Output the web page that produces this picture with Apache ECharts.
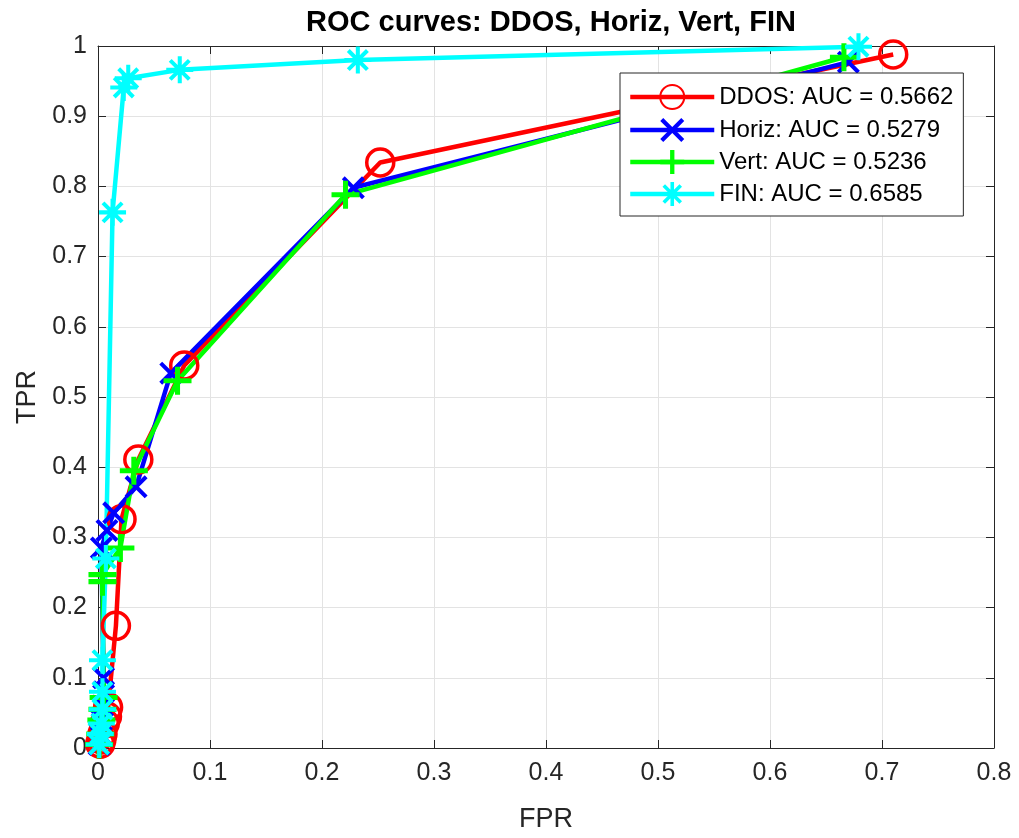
<!DOCTYPE html>
<html>
<head>
<meta charset="utf-8">
<script src="https://cdn.jsdelivr.net/npm/echarts@6/dist/echarts.min.js"></script>
<style>html,body{margin:0;padding:0;background:#fff;}#c{width:1019px;height:838px;}</style>
</head>
<body>
<div id="c"></div>
<script>
// ---- data ----
const seriesNames = ['DDOS: AUC = 0.5662', 'Horiz: AUC = 0.5279', 'Vert: AUC = 0.5236', 'FIN: AUC = 0.6585'];
const ddosFPR  = [0.002, 0.003, 0.004, 0.006, 0.008, 0.009, 0.016, 0.021, 0.036, 0.077, 0.252, 0.710];
const ddosTPR  = [0.006, 0.012, 0.020, 0.035, 0.045, 0.058, 0.174, 0.326, 0.411, 0.545, 0.834, 0.988];
const horizFPR = [0.001, 0.002, 0.003, 0.004, 0.005, 0.005, 0.003, 0.008, 0.014, 0.034, 0.065, 0.228, 0.670];
const horizTPR = [0.005, 0.020, 0.040, 0.060, 0.080, 0.100, 0.285, 0.310, 0.335, 0.372, 0.534, 0.798, 0.977];
const vertFPR  = [0.001, 0.002, 0.003, 0.004, 0.005, 0.004, 0.004, 0.020, 0.032, 0.071, 0.221, 0.666];
const vertTPR  = [0.005, 0.020, 0.040, 0.055, 0.072, 0.237, 0.247, 0.285, 0.395, 0.523, 0.788, 0.984];
const finFPR   = [0.001, 0.002, 0.003, 0.004, 0.004, 0.004, 0.007, 0.013, 0.023, 0.027, 0.073, 0.232, 0.679];
const finTPR   = [0.005, 0.020, 0.035, 0.055, 0.080, 0.125, 0.270, 0.763, 0.941, 0.954, 0.966, 0.980, 0.999];
const xTicks = [0, 0.1, 0.2, 0.3, 0.4, 0.5, 0.6, 0.7, 0.8];
const yTicks = [0, 0.1, 0.2, 0.3, 0.4, 0.5, 0.6, 0.7, 0.8, 0.9, 1];

// ---- marker shapes ----
const plusPath = 'path://M0,4.1 H10 V5.9 H0 Z M4.1,0 H5.9 V10 H4.1 Z';
const crossPath = 'path://M0.707,-0.707 L10.707,9.293 L9.293,10.707 L-0.707,0.707 Z M10.707,0.707 L0.707,10.707 L-0.707,9.293 L9.293,-0.707 Z';
const starPath = 'path://M0,4.25 H10 V5.75 H0 Z M4.25,0 H5.75 V10 H4.25 Z ' +
  'M1.99,0.93 L9.07,8.01 L8.01,9.07 L0.93,1.99 Z M9.07,1.99 L1.99,9.07 L0.93,8.01 L8.01,0.93 Z';

function pairs(xs, ys) { return xs.map((x, i) => [x, ys[i]]); }

const font = 'Arial, "Liberation Sans", Helvetica, sans-serif';
const ink = '#262626';

function mk(name, xs, ys, color, symbol, size, hollow) {
  return {
    name: name, type: 'line', data: pairs(xs, ys),
    symbol: symbol, symbolSize: size, showAllSymbol: true, clip: false,
    lineStyle: { color: color, width: 4.5 },
    itemStyle: hollow ? { color: 'rgba(0,0,0,0)', borderColor: color, borderWidth: 3.5 }
                      : { color: color, borderWidth: 0 },
    emphasis: { disabled: true },
    animation: false
  };
}

const chart = echarts.init(document.getElementById('c'), null, { renderer: 'canvas' });
chart.setOption({
  backgroundColor: '#fff',
  animation: false,
  title: {
    text: 'ROC curves: DDOS, Horiz, Vert, FIN',
    left: 546, top: 3, textAlign: 'center',
    textStyle: { fontFamily: font, fontSize: 29, fontWeight: 'bold', color: '#000' }
  },
  legend: {
    orient: 'vertical', left: 620, top: 73,
    itemWidth: 84, itemHeight: 30, itemGap: 8,
    padding: [11, 10, 10, 8],
    backgroundColor: '#fff', borderColor: ink, borderWidth: 1, borderRadius: 0,
    lineStyle: { width: 4.5 },
    textStyle: { fontFamily: font, fontSize: 24, color: '#000' },
    data: seriesNames
  },
  grid: { left: 98, right: 25, top: 46, bottom: 89, containLabel: false },
  xAxis: [{
    type: 'value', min: 0, max: 0.8, interval: 0.1,
    name: 'FPR', nameLocation: 'middle', nameGap: 58,
    nameTextStyle: { fontFamily: font, fontSize: 27, color: ink },
    axisLine: { show: true, onZero: false, lineStyle: { color: ink, width: 1 } },
    axisTick: { show: true, inside: true, length: 8, lineStyle: { color: ink } },
    axisLabel: { fontFamily: font, fontSize: 25, color: ink, margin: 13,
      formatter: v => xTicks.includes(Math.round(v * 10) / 10) ? String(Math.round(v * 10) / 10) : '' },
    splitLine: { show: true, lineStyle: { color: '#e3e3e3', width: 1 } }
  }, {
    type: 'value', position: 'top', min: 0, max: 0.8, interval: 0.1,
    axisLine: { show: true, onZero: false, lineStyle: { color: ink, width: 1 } },
    axisTick: { show: true, inside: true, length: 8, lineStyle: { color: ink } },
    axisLabel: { show: false }, splitLine: { show: false }
  }],
  yAxis: [{
    type: 'value', min: 0, max: 1, interval: 0.1,
    name: 'TPR', nameLocation: 'middle', nameGap: 55,
    nameTextStyle: { fontFamily: font, fontSize: 27, color: ink },
    axisLine: { show: true, onZero: false, lineStyle: { color: ink, width: 1 } },
    axisTick: { show: true, inside: true, length: 8, lineStyle: { color: ink } },
    axisLabel: { fontFamily: font, fontSize: 25, color: ink, margin: 11,
      formatter: v => { const r = Math.round(v * 10) / 10; return yTicks.includes(r) ? String(r) : ''; } },
    splitLine: { show: true, lineStyle: { color: '#e3e3e3', width: 1 } }
  }, {
    type: 'value', position: 'right', min: 0, max: 1, interval: 0.1,
    axisLine: { show: true, onZero: false, lineStyle: { color: ink, width: 1 } },
    axisTick: { show: true, inside: true, length: 8, lineStyle: { color: ink } },
    axisLabel: { show: false }, splitLine: { show: false }
  }],
  series: [
    mk(seriesNames[0], ddosFPR, ddosTPR, '#ff0000', 'circle', 27, true),
    mk(seriesNames[1], horizFPR, horizTPR, '#0000ff', crossPath, 23, false),
    mk(seriesNames[2], vertFPR, vertTPR, '#00ff00', plusPath, 28, false),
    mk(seriesNames[3], finFPR, finTPR, '#00ffff', starPath, 27, false)
  ]
});
</script>
</body>
</html>
